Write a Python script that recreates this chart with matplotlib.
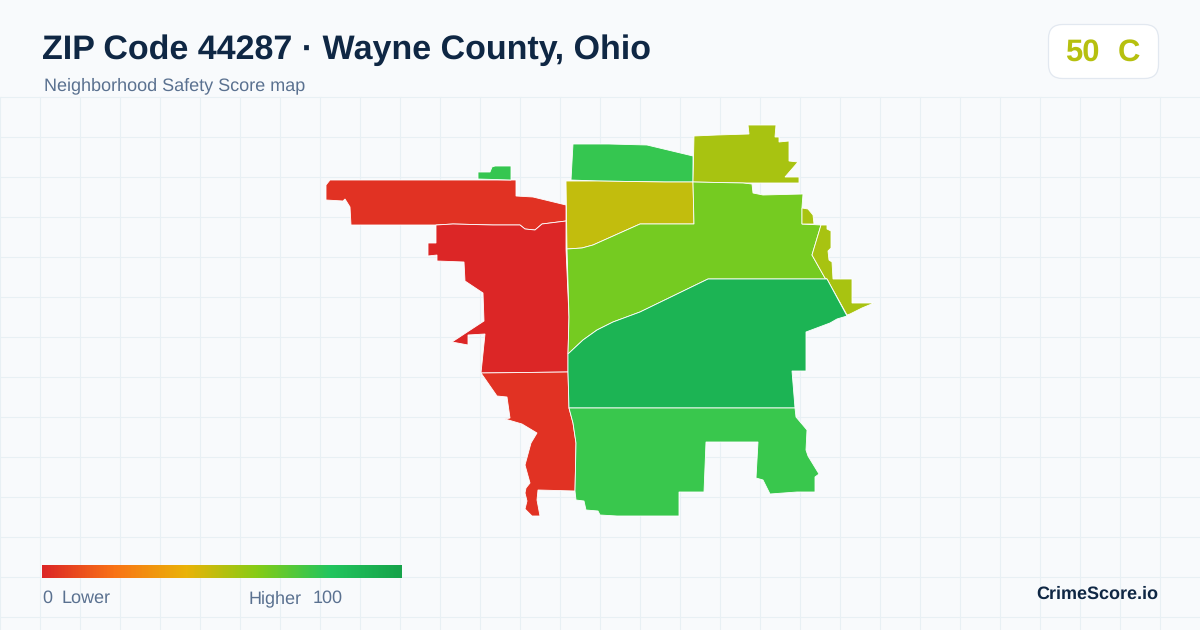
import matplotlib
matplotlib.use("Agg")
import matplotlib.pyplot as plt
import numpy as np
from matplotlib.colors import LinearSegmentedColormap
from matplotlib.patches import FancyBboxPatch, Polygon

plt.rcParams['font.family'] = ['Liberation Sans', 'DejaVu Sans']
plt.rcParams['text.hinting'] = 'none'
plt.rcParams['text.hinting_factor'] = 1

# zip areas, outlines (x, y)
nw_red = [(326, 185), (330, 180), (516, 180), (516, 196), (533, 197), (566, 205), (566, 221),
          (542, 224), (535, 230), (525, 229), (520, 225), (493, 225), (453, 224), (436, 225),
          (351, 225), (350, 207), (345, 199), (343, 201), (326, 200)]
west_red = [(436, 225), (453, 224), (493, 225), (520, 225), (525, 229), (535, 230), (542, 224),
            (566, 221), (566, 249), (569, 317), (568, 354), (568, 372), (481, 373), (485, 334),
            (468, 335), (468, 345), (452, 342), (484, 321), (483, 293), (465, 281), (464, 262),
            (437, 261), (437, 255), (428, 256), (428, 243), (436, 243)]
sw_red = [(481, 373), (568, 372), (569, 408), (573, 423), (576, 443), (575, 491), (538, 490),
          (537, 500), (540, 516), (532, 516), (525, 509), (527, 501), (525, 493), (526, 488),
          (530, 483), (525, 465), (531, 443), (537, 433), (522, 424), (505, 419), (510, 418),
          (507, 397), (497, 396)]
islet_green = [(478, 172), (490, 172), (492, 167), (495, 166), (511, 166), (511, 180), (478, 179)]
north_green = [(573, 144), (609, 144), (647, 145), (693, 156), (693, 182), (665, 182), (597, 181),
               (571, 180)]
ne_olive = [(694, 136), (717, 135), (749, 134), (748, 125), (776, 125), (775, 137), (779, 137),
            (779, 142), (789, 141), (789, 161), (798, 162), (785, 177), (799, 177), (799, 183),
            (743, 183), (693, 182)]
north_yellow = [(566, 181), (597, 181), (665, 182), (693, 182), (694, 224), (640, 224), (593, 245),
                (582, 248), (567, 249)]
center_lime = [(693, 182), (743, 183), (752, 184), (753, 193), (763, 195), (803, 194), (802, 207),
               (802, 224), (821, 225), (812, 255), (825, 278), (827, 279), (708, 279), (640, 312),
               (613, 322), (597, 330), (583, 340), (568, 354), (569, 317), (567, 249), (582, 248),
               (593, 245), (640, 224), (694, 224)]
nub_olive = [(802, 208), (808, 209), (813, 215), (814, 224), (802, 224)]
east_olive = [(821, 225), (827, 225), (827, 229), (831, 231), (831, 248), (828, 251), (829, 260),
              (832, 262), (833, 279), (852, 279), (852, 303), (874, 303), (862, 308), (850, 314),
              (847, 315), (827, 279), (825, 278), (812, 255)]
center_green = [(708, 279), (827, 279), (847, 316), (837, 319), (830, 323), (806, 332), (806, 371),
                (792, 371), (795, 408), (569, 408), (568, 372), (568, 354), (583, 340), (597, 330),
                (613, 322), (640, 312)]
south_green = [(569, 408), (795, 408), (796, 417), (807, 430), (806, 450), (808, 456), (819, 474),
               (815, 477), (815, 492), (797, 492), (770, 494), (763, 480), (756, 478), (758, 442),
               (706, 442), (704, 492), (679, 492), (679, 516), (617, 516), (600, 515), (598, 511),
               (586, 510), (584, 501), (576, 500), (575, 491), (576, 443), (573, 423)]

areas = [nw_red, west_red, sw_red, islet_green, north_green, ne_olive, north_yellow,
         center_lime, nub_olive, east_olive, center_green, south_green]
scores = [3.5, 0, 3.5, 76, 76, 53, 48, 63, 53, 53, 90, 75]

scale_stops = [0, 0.2, 0.4, 0.6, 0.8, 1.0]
scale_colors = ['#dc2626', '#f97316', '#eab308', '#84cc16', '#22c55e', '#16a34a']
cmap = LinearSegmentedColormap.from_list("safety", list(zip(scale_stops, scale_colors)))

fig = plt.figure(figsize=(12, 6.3), dpi=100, facecolor='#f8fafc')
ax = fig.add_axes([0, 0, 1, 1])
ax.set_facecolor('#f8fafc')
ax.axis('off')

# background grid, starts under the header
for gx in range(0, 1200, 40):
    ax.plot([gx, gx], [97, 630], color='#e8f0f4', lw=0.8, zorder=1)
for gy in range(97, 630, 40):
    ax.plot([0, 1200], [gy, gy], color='#e8f0f4', lw=0.8, zorder=1)

for outline, score in zip(areas, scores):
    ax.add_patch(Polygon(outline, closed=True, facecolor=cmap(score / 100),
                         edgecolor='white', lw=0.6, zorder=3))

# header
ax.text(42, 59, "ZIP Code 44287 · Wayne County, Ohio", fontsize=24.5, fontweight='bold',
        color='#0f2744', va='baseline', ha='left', zorder=5)
ax.text(44, 90.5, "Neighborhood Safety Score map", fontsize=12.9, color='#5a7190',
        va='baseline', ha='left', zorder=5)

# score badge
ax.add_patch(FancyBboxPatch((1048.5, 24.5), 110, 54, boxstyle="round,pad=0,rounding_size=14",
                            facecolor='white', edgecolor='#e2e8f0', lw=0.9, zorder=4))
ax.text(1065, 61, "50", fontsize=22.5, fontweight='bold', color=cmap(0.5), va='baseline', ha='left', zorder=5)
ax.text(1118, 61, "C", fontsize=22.5, fontweight='bold', color=cmap(0.5), va='baseline', ha='left', zorder=5)

# legend bar
gradient = np.linspace(0, 1, 360).reshape(1, -1)
ax.imshow(gradient, cmap=cmap, extent=(42, 402, 578, 565), aspect='auto', zorder=4)
ax.text(42, 603, "0", fontsize=12.9, color='#5a7190', va='baseline', ha='left', zorder=5)
ax.text(62, 603, "Lower", fontsize=12.9, color='#5a7190', va='baseline', ha='left', zorder=5)
ax.text(249, 603, "Higher", fontsize=12.9, color='#5a7190', va='baseline', ha='left', zorder=5)
ax.text(313, 603, "100", fontsize=12.9, color='#5a7190', va='baseline', ha='left', zorder=5)
ax.text(1158, 599, "CrimeScore.io", fontsize=12.9, fontweight='bold', color='#0f2744',
        va='baseline', ha='right', zorder=5)

ax.set_xlim(0, 1200)
ax.set_ylim(630, 0)

fig.savefig("out.png", dpi=100, facecolor=fig.get_facecolor())
